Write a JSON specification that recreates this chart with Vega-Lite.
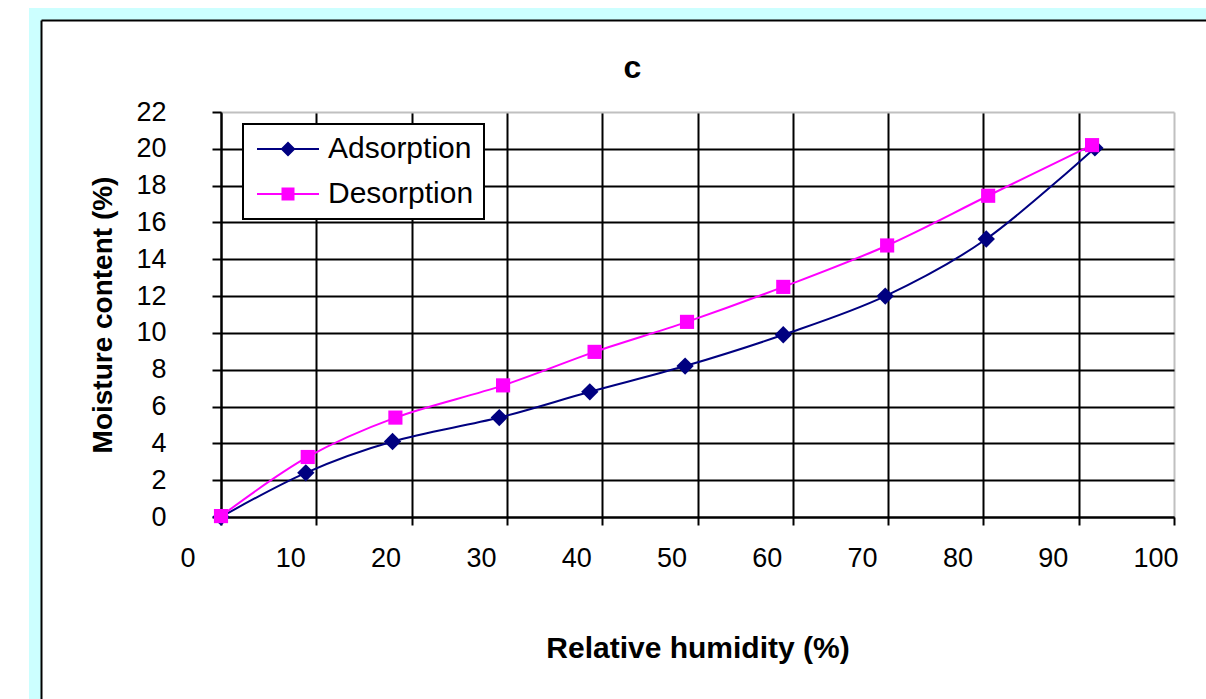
{
  "$schema": "https://vega.github.io/schema/vega-lite/v6.json",
  "width": 1171,
  "height": 685,
  "autosize": {"type": "none"},
  "padding": {"left": 35, "top": 14, "right": 0, "bottom": 0},
  "background": "white",
  "config": {
    "view": {"fill": "white", "stroke": "#ccffff", "strokeWidth": 12, "strokeCap": "square", "strokeDash": [1171, 1856, 685, 0]},
    "font": "Liberation Sans"
  },
  "title": {"text": "c", "font": "Liberation Sans", "fontSize": 32, "fontWeight": "bold", "color": "black", "anchor": "middle", "frame": "group", "baseline": "alphabetic", "offset": 0, "dy": 96, "dx": 12},
  "data": {"values": [
    {"series": "Adsorption", "rh": 0, "mc": 0},
    {"series": "Adsorption", "rh": 8.9, "mc": 2.4},
    {"series": "Adsorption", "rh": 18.0, "mc": 4.1},
    {"series": "Adsorption", "rh": 29.2, "mc": 5.4},
    {"series": "Adsorption", "rh": 38.7, "mc": 6.8},
    {"series": "Adsorption", "rh": 48.7, "mc": 8.2},
    {"series": "Adsorption", "rh": 59.0, "mc": 9.9},
    {"series": "Adsorption", "rh": 69.7, "mc": 12.0},
    {"series": "Adsorption", "rh": 80.3, "mc": 15.1},
    {"series": "Adsorption", "rh": 91.7, "mc": 20.05},
    {"series": "Desorption", "rh": 0, "mc": 0.05},
    {"series": "Desorption", "rh": 9.1, "mc": 3.26},
    {"series": "Desorption", "rh": 18.3, "mc": 5.4},
    {"series": "Desorption", "rh": 29.6, "mc": 7.15},
    {"series": "Desorption", "rh": 39.2, "mc": 8.97},
    {"series": "Desorption", "rh": 48.9, "mc": 10.6},
    {"series": "Desorption", "rh": 59.0, "mc": 12.5},
    {"series": "Desorption", "rh": 69.9, "mc": 14.75},
    {"series": "Desorption", "rh": 80.5, "mc": 17.45},
    {"series": "Desorption", "rh": 91.4, "mc": 20.2}
  ]},
  "layer": [
    {
      "encoding": {
        "x": {
          "field": "rh", "type": "quantitative",
          "scale": {"domain": [0, 100], "range": [186, 1139], "nice": false, "zero": false},
          "axis": {
            "orient": "top", "offset": -503,
            "values": [0, 10, 20, 30, 40, 50, 60, 70, 80, 90, 100],
            "title": "Relative humidity (%)", "titleFont": "Liberation Sans", "titleFontSize": 30, "titleFontWeight": "bold", "titleColor": "black",
            "titleY": 140, "titleBaseline": "alphabetic",
            "labelFont": "Liberation Sans", "labelFontSize": 27, "labelColor": "black",
            "labelAlign": "left", "labelOffset": -41, "labelBaseline": "top", "labelPadding": -20,
            "labelFlush": false, "labelOverlap": false,
            "tickSize": -8, "tickColor": "black", "tickWidth": 2,
            "domainColor": "black", "domainWidth": 2,
            "grid": true, "gridWidth": 2,
            "gridColor": {"condition": {"test": "datum.value === 100", "value": "#c0c0c0"}, "value": "black"}
          }
        },
        "y": {
          "field": "mc", "type": "quantitative",
          "scale": {"domain": [0, 22], "range": [503, 98], "nice": false, "zero": false},
          "axis": {
            "orient": "left", "offset": -186,
            "values": [0, 2, 4, 6, 8, 10, 12, 14, 16, 18, 20, 22],
            "title": "Moisture content (%)", "titleFont": "Liberation Sans", "titleFontSize": 28, "titleFontWeight": "bold", "titleColor": "black",
            "titleX": -110, "titleBaseline": "alphabetic",
            "labelFont": "Liberation Sans", "labelFontSize": 27, "labelColor": "black",
            "labelPadding": 46, "labelBaseline": "middle", "labelFlush": false, "labelOverlap": false,
            "tickSize": 9, "tickColor": "black", "tickWidth": 2,
            "domainColor": "black", "domainWidth": 2,
            "grid": true, "gridWidth": 2,
            "gridColor": {"condition": {"test": "datum.value === 22", "value": "#c0c0c0"}, "value": "black"}
          }
        },
        "color": {
          "field": "series", "type": "nominal",
          "scale": {"domain": ["Adsorption", "Desorption"], "range": ["#000080", "#ff00ff"]},
          "legend": {
            "orient": "none", "legendX": 208, "legendY": 110, "title": null,
            "fillColor": "white", "strokeColor": "black", "padding": 10,
            "labelFont": "Liberation Sans", "labelFontSize": 30, "labelColor": "black",
            "symbolSize": 400, "symbolOffset": 20, "labelOffset": 25, "rowPadding": 15,
            "symbolStrokeWidth": 0, "symbolOpacity": 1,
            "encode": {
              "legend": {"update": {"strokeWidth": {"value": 2}}}
            }
          }
        }
      },
      "layer": [
        {
          "mark": {"type": "line", "strokeWidth": 2, "interpolate": "cardinal"}
        },
        {
          "transform": [{"filter": "datum.series === 'Adsorption'"}],
          "mark": {"type": "point", "filled": true, "opacity": 1, "shape": "diamond", "size": 300}
        },
        {
          "transform": [{"filter": "datum.series === 'Desorption'"}],
          "mark": {"type": "point", "filled": true, "opacity": 1, "shape": "square", "size": 200}
        },
        {
          "transform": [{"filter": "false"}],
          "mark": {"type": "point", "filled": true, "opacity": 1},
          "encoding": {
            "shape": {
              "field": "series", "type": "nominal",
              "scale": {"domain": ["Adsorption", "Desorption"], "range": ["M-3.1,-0.1H3.1V0.1H-3.1Z M0,-0.75L0.75,0L0,0.75L-0.75,0Z", "M-3.1,-0.1H3.1V0.1H-3.1Z M-0.65,-0.65H0.65V0.65H-0.65Z"]}
            }
          }
        }
      ]
    },
    {
      "transform": [{"filter": "false"}],
      "mark": {"type": "point"},
      "encoding": {
        "x": {
          "field": "rh", "type": "quantitative",
          "scale": {"domain": [0, 1], "range": [6, 1171], "nice": false, "zero": false},
          "axis": {"orient": "top", "offset": -6, "domain": true, "domainColor": "black", "domainWidth": 2, "ticks": false, "labels": false, "grid": false, "title": null}
        },
        "y": {
          "field": "mc", "type": "quantitative",
          "scale": {"domain": [0, 1], "range": [685, 6], "nice": false, "zero": false},
          "axis": {"orient": "left", "offset": -6, "domain": true, "domainColor": "black", "domainWidth": 2, "ticks": false, "labels": false, "grid": false, "title": null}
        }
      }
    }
  ],
  "resolve": {"scale": {"x": "independent", "y": "independent"}}
}
